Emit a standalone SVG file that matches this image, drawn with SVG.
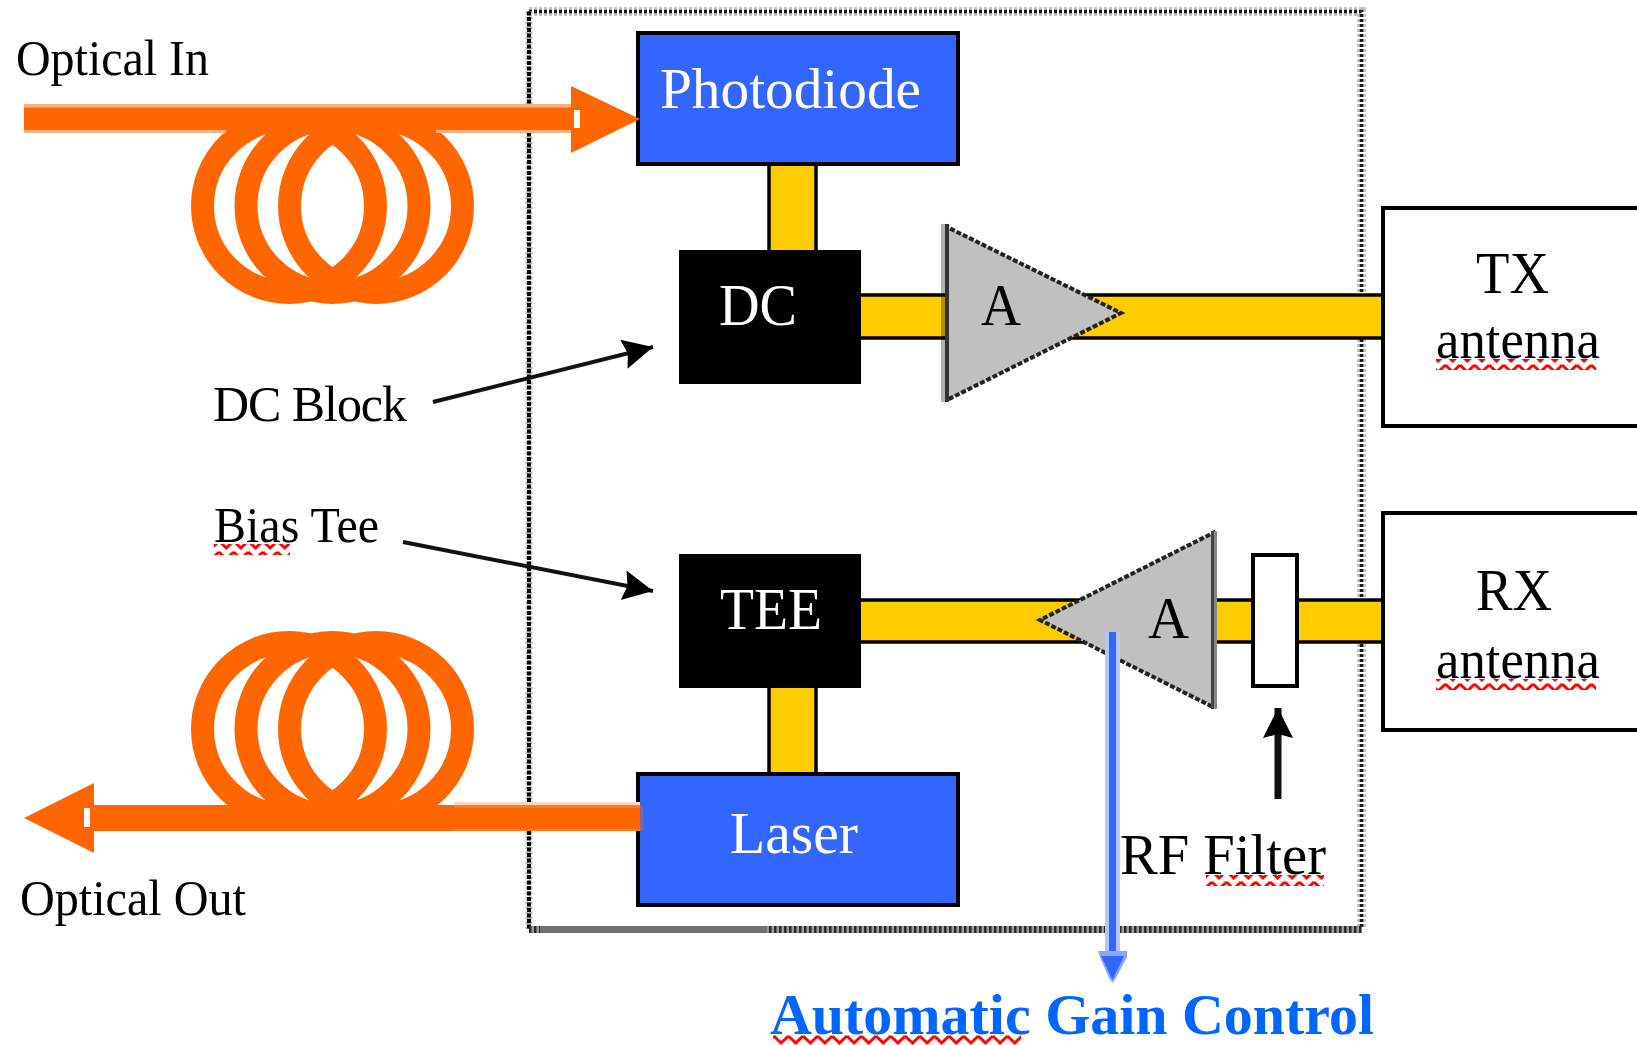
<svg xmlns="http://www.w3.org/2000/svg" width="1637" height="1045" viewBox="0 0 1637 1045">
<style>
text{font-family:"Liberation Serif","Times New Roman",serif;font-size:50px;fill:#000}
.w{fill:#fff}
.big{font-size:57px}
.cap{font-size:59px}
.ant{font-size:54px}
.rf{font-size:57px}
.agc{fill:#0066ff;font-weight:bold;font-size:57.5px}
.box{stroke:#000;stroke-width:4}
.blue{fill:#3366ff}
.blk{fill:#000}
.wb{fill:#fff}
.yel{fill:#ffcc00;stroke:#000;stroke-width:3.5}
.amp{fill:#c0c0c0;stroke:#222;stroke-width:4;stroke-dasharray:5 2}
.coil{fill:none;stroke:#ff6600;stroke-width:23}
.org{fill:#ff6600}
.thin{stroke:#111;stroke-width:4;fill:none}
.sq{fill:url(#squig)}
.halo{fill:none;stroke:#c4c4c4;stroke-width:9;stroke-dasharray:3 2}
.dots{fill:none;stroke:#1a1a1a;stroke-width:3.5;stroke-dasharray:3 2}
</style>
<defs>
<pattern id="squig" width="14.6" height="11" patternUnits="userSpaceOnUse">
<path d="M0 2L7.3 9L14.6 2" fill="none" stroke="#ff0000" stroke-width="3"/>
</pattern>
<marker id="ah" markerUnits="userSpaceOnUse" markerWidth="34" markerHeight="34" refX="30" refY="15" orient="auto" viewBox="0 0 34 30">
<path d="M0 0L30 15L0 30L4 15Z" fill="#000"/>
</marker>
</defs>
<rect width="1637" height="1045" fill="#fff"/>
<g id="module">
<path class="halo" d="M529 11.5H1361.5V929"/>
<path class="dots" d="M529 11.5H1361.5V929"/>
<path d="M529 11.5V929" fill="none" stroke="#bbb" stroke-width="7" stroke-dasharray="3 2"/>
<path d="M529 11.5V929" fill="none" stroke="#000" stroke-width="4" stroke-dasharray="4 1.5"/>
<path d="M529 929.5H1361.5" fill="none" stroke="#9a9a9a" stroke-width="7"/>
<path d="M529 929.5H1361.5" fill="none" stroke="#2a2a2a" stroke-width="7" stroke-dasharray="2.5 2.5"/>
<path d="M540 929.5H767" fill="none" stroke="#707070" stroke-width="7"/>
</g>
<g id="connectors">
<rect class="yel" x="769" y="162" width="47" height="94"/>
<rect class="yel" x="769" y="683" width="47" height="95"/>
<rect class="yel" x="856" y="295" width="530" height="43"/>
<rect class="yel" x="856" y="600" width="530" height="42"/>
<line class="thin" x1="433" y1="402" x2="653" y2="347" marker-end="url(#ah)"/>
<line class="thin" x1="403" y1="542" x2="653" y2="591" marker-end="url(#ah)"/>
<line x1="1278" y1="799" x2="1278" y2="708" stroke="#111" stroke-width="7" marker-end="url(#ah)"/>
</g>
<g id="coil-in">
<circle class="coil" cx="289" cy="206" r="86.5"/>
<circle class="coil" cx="332.5" cy="206" r="86.5"/>
<circle class="coil" cx="376" cy="206" r="86.5"/>
</g>
<g id="coil-out">
<circle class="coil" cx="289" cy="729" r="86.5"/>
<circle class="coil" cx="332.5" cy="729" r="86.5"/>
<circle class="coil" cx="376" cy="729" r="86.5"/>
</g>
<g id="photodiode">
<rect class="box blue" x="638" y="33" width="320" height="131"/>
<text class="big w" x="660" y="108" textLength="261" lengthAdjust="spacingAndGlyphs">Photodiode</text>
</g>
<g id="optical-in-arrow">
<rect x="24" y="104" width="550" height="29" fill="#ffb080"/>
<rect class="org" x="24" y="107.5" width="550" height="22.5"/>
<rect class="org" x="226" y="125" width="210" height="8"/>
<path class="org" d="M571 86L640 119L571 153Z"/>
<rect x="574" y="110" width="6" height="18" fill="#fff"/>
</g>
<g id="laser">
<rect class="box blue" x="638" y="774" width="320" height="131"/>
<text class="cap w" x="730" y="853" textLength="128" lengthAdjust="spacingAndGlyphs">Laser</text>
</g>
<g id="optical-out-arrow">
<rect x="454" y="802" width="186" height="29" fill="#ffd9bf"/>
<rect x="454" y="805" width="186" height="26" fill="#ff7a25"/>
<rect class="org" x="454" y="808" width="186" height="21"/>
<rect class="org" x="92" y="805" width="362" height="26"/>
<rect x="640" y="805" width="3" height="26" fill="#7a6aa0"/>
<path class="org" d="M94 783L24 818L94 853Z"/>
<rect x="84" y="808" width="6" height="19" fill="#fff"/>
</g>
<g id="dc">
<rect class="blk" x="679" y="250" width="182" height="134"/>
<text class="cap w" x="719" y="325" textLength="78" lengthAdjust="spacingAndGlyphs">DC</text>
</g>
<g id="tee">
<rect class="blk" x="679" y="554" width="182" height="134"/>
<text class="cap w" x="720" y="629" textLength="102" lengthAdjust="spacingAndGlyphs">TEE</text>
</g>
<g id="amp-tx">
<rect x="941" y="224" width="4" height="178" fill="#000" opacity=".3"/>
<path class="amp" d="M947 227V400L1121 313Z"/>
<rect x="945" y="224" width="4" height="178" fill="#333"/>
<text class="cap" x="981" y="325" textLength="40" lengthAdjust="spacingAndGlyphs">A</text>
</g>
<g id="amp-rx">
<path class="amp" d="M1213 533V707L1040 620Z"/>
<rect x="1211" y="531" width="3" height="178" fill="#444"/>
<rect x="1214" y="531" width="3" height="178" fill="#888"/>
<text class="cap" x="1148" y="638" textLength="41" lengthAdjust="spacingAndGlyphs">A</text>
</g>
<g id="rf-filter">
<rect class="box wb" x="1253" y="555" width="44" height="131"/>
</g>
<g id="tx-antenna">
<rect class="box wb" x="1383" y="208" width="270" height="218"/>
<text class="cap" x="1476" y="293" textLength="73" lengthAdjust="spacingAndGlyphs">TX</text>
<text class="ant" x="1436" y="358" textLength="164" lengthAdjust="spacingAndGlyphs">antenna</text>
<rect class="sq" x="1436" y="359" width="160" height="11"/>
</g>
<g id="rx-antenna">
<rect class="box wb" x="1383" y="513" width="270" height="217"/>
<text class="cap" x="1476" y="610" textLength="76" lengthAdjust="spacingAndGlyphs">RX</text>
<text class="ant" x="1436" y="678" textLength="164" lengthAdjust="spacingAndGlyphs">antenna</text>
<rect class="sq" x="1436" y="679" width="160" height="11"/>
</g>
<g id="labels">
<text x="16" y="75" textLength="193" lengthAdjust="spacingAndGlyphs">Optical In</text>
<text x="20" y="915" textLength="226" lengthAdjust="spacingAndGlyphs">Optical Out</text>
<text x="213" y="421" textLength="194">DC Block</text>
<text x="214" y="542" textLength="165" lengthAdjust="spacingAndGlyphs">Bias Tee</text>
<rect class="sq" x="214" y="544" width="76" height="11"/>
<text class="rf" x="1120" y="874" textLength="206" lengthAdjust="spacingAndGlyphs">RF Filter</text>
<rect class="sq" x="1206" y="875" width="118" height="11"/>
<text class="agc" x="770" y="1034" textLength="604" lengthAdjust="spacingAndGlyphs">Automatic Gain Control</text>
<rect class="sq" x="773" y="1035" width="248" height="10"/>
</g>
<g id="agc-arrow">
<rect x="1105" y="632" width="15" height="320" fill="#b3c6ff"/>
<rect x="1109" y="632" width="7" height="320" fill="#3366ff"/>
<path d="M1098 951H1127V957L1116 978L1112.500 983L1109 978L1100 957Z" fill="#8aa6ff"/>
<path d="M1101 956H1124L1112.500 980Z" fill="#3366ff"/>
</g>
</svg>
